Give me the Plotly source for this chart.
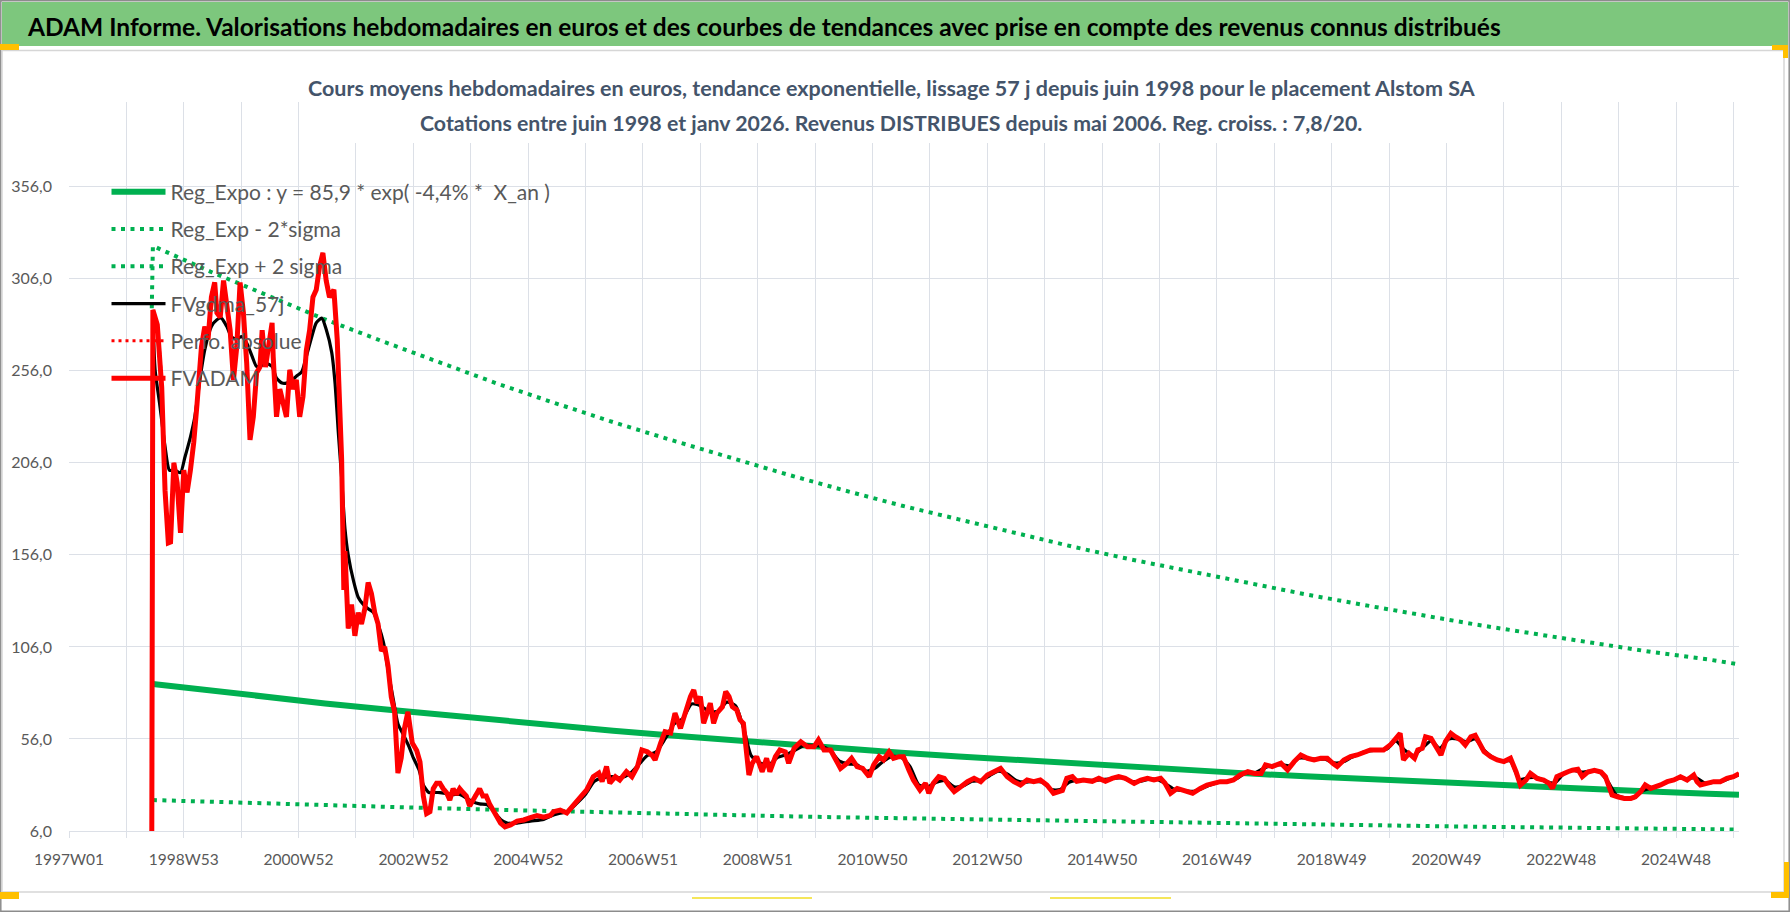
import plotly.graph_objects as go

# ---------------- DATA ----------------
# x = week index counted from 1997W01 (category position on the weekly axis)
label_week = [0, 104, 208, 312, 416, 520, 624, 728, 832, 936, 1040, 1144, 1248, 1352, 1456]
label_text = ["1997W01", "1998W53", "2000W52", "2002W52", "2004W52", "2006W51", "2008W51",
              "2010W50", "2012W50", "2014W50", "2016W49", "2018W49", "2020W49", "2022W48", "2024W48"]

trend_week = [76, 128, 180, 232, 285, 337, 389, 441, 493, 546, 598, 650, 702, 754, 806,
              859, 911, 963, 1015, 1067, 1120, 1172, 1224, 1276, 1328, 1380, 1433, 1485, 1513]
reg_expo = [85.9, 82.2, 78.7, 75.3, 72.1, 69.0, 66.0, 63.2, 60.5, 57.9, 55.4, 53.0, 50.7, 48.5, 46.5,
            44.5, 42.5, 40.7, 39.0, 37.3, 35.7, 34.2, 32.7, 31.3, 30.0, 28.7, 27.4, 26.3, 25.7]
reg_minus = [22.8, 21.8, 20.9, 20.0, 19.1, 18.3, 17.5, 16.7, 16.0, 15.3, 14.7, 14.0, 13.4, 12.9, 12.3,
             11.8, 11.3, 10.8, 10.3, 9.9, 9.5, 9.1, 8.7, 8.3, 8.0, 7.6, 7.3, 7.0, 6.8]
plus_week = [75] + trend_week
reg_plus = [290.0, 323.8, 309.9, 296.7, 283.9, 271.8, 260.1, 248.8, 238.3, 228.1, 218.3, 208.9, 199.8,
            191.1, 182.8, 175.3, 167.8, 160.2, 153.4, 147.0, 140.6, 134.6, 128.9, 123.3, 118.0, 113.1,
            108.2, 103.3, 99.2, 96.5]

adam_week = [75, 76, 80, 83, 84, 87, 90, 92, 95, 98, 101, 104, 107, 110, 113, 116, 117, 120, 123, 126,
             129, 132, 134, 137, 140, 143, 146, 149, 152, 155, 158, 161, 164, 167, 170, 173, 175, 178,
             181, 184, 185, 188, 191, 194, 197, 200, 203, 206, 209, 212, 215, 218, 221, 224, 227, 230,
             233, 236, 240, 243, 245, 247, 249, 250, 253, 256, 259, 262, 265, 268, 271, 274, 277, 280,
             283, 286, 289, 292, 295, 298, 301, 304, 307, 311, 315, 318, 321, 324, 327, 330, 333, 336,
             339, 342, 345, 348, 351, 354, 357, 360, 363, 366, 369, 372, 375, 378, 381, 385, 388, 391,
             395, 400, 406, 412, 418, 424, 430, 436, 439, 445, 451, 457, 463, 469, 475, 480, 483, 487,
             490, 495, 499, 505, 510, 515, 519, 524, 528, 531, 536, 540, 545, 549, 554, 558, 563, 566,
             569, 572, 575, 578, 581, 584, 587, 592, 595, 598, 601, 605, 608, 611, 613, 616, 619, 623,
             628, 632, 635, 640, 644, 649, 652, 657, 663, 669, 675, 679, 684, 690, 694, 699, 705, 709,
             714, 719, 725, 729, 734, 738, 743, 747, 752, 756, 761, 765, 771, 776, 779, 783, 788, 793,
             797, 802, 808, 814, 820, 826, 832, 838, 844, 850, 856, 862, 868, 874, 880, 886, 892, 900,
             904, 909, 913, 919, 927, 933, 939, 945, 951, 957, 965, 971, 977, 983, 989, 993, 998, 1004,
             1010, 1018, 1025, 1031, 1037, 1043, 1049, 1055, 1061, 1068, 1074, 1080, 1084, 1090, 1098,
             1104, 1110, 1116, 1122, 1128, 1134, 1140, 1145, 1149, 1155, 1161, 1167, 1173, 1179, 1185,
             1191, 1197, 1202, 1206, 1209, 1214, 1219, 1222, 1226, 1229, 1234, 1238, 1243, 1247, 1252,
             1256, 1261, 1265, 1270, 1274, 1279, 1282, 1288, 1294, 1300, 1306, 1311, 1315, 1320, 1324,
             1330, 1336, 1341, 1344, 1348, 1353, 1358, 1362, 1367, 1371, 1376, 1382, 1388, 1392, 1395,
             1398, 1403, 1409, 1415, 1419, 1424, 1428, 1433, 1438, 1442, 1448, 1454, 1460, 1466, 1472,
             1475, 1478, 1484, 1490, 1496, 1502, 1508, 1513]
adam_value = [0, 289, 281, 260, 247, 191, 162.5, 163, 206, 195, 168, 202, 190, 202, 217, 238, 246, 269, 280, 273,
              296, 304, 287.5, 285, 305, 289, 278, 251, 269, 304, 287.5, 260, 218.5, 231, 255, 258, 278, 258,
              269, 282, 263.6, 231, 246, 238.6, 231, 256.5, 246, 251, 231, 242, 267, 278, 296, 300, 312.5, 320,
              305, 296, 300, 273, 235, 208, 137, 158, 116, 129, 112, 124.6, 118.5, 126.7, 141, 135, 124.6, 118.5,
              103.8, 106, 95.7, 78.8, 70.7, 37.5, 45.7, 62, 70.7, 53.8, 49.7, 43.5, 25, 15.5, 16.5, 29, 32, 32,
              29, 26.9, 22.8, 29, 25.8, 29, 26.9, 25, 19.6, 22.8, 26.9, 29, 25, 25, 20.7, 16.5, 13.3, 10.3,
              8.2, 9.3, 11.4, 12, 13.3, 14.4, 13.5, 14.4, 16.5, 17.4, 15.8, 20, 24, 28.3, 35.5, 37.5, 32.8, 41,
              32, 35.5, 33.7, 38.2, 35.5, 41, 50, 49, 47.3, 44.6, 53.7, 60, 59.3, 70, 61.8, 70, 79, 82.6,
              75.4, 79, 64.5, 70, 75.4, 64.5, 70, 73.5, 81.7, 79, 73.5, 71.8, 66.3, 64.5, 51.8, 36.4, 42.8, 46.4,
              38.2, 45.5, 38.2, 46.4, 50, 49, 42.8, 51, 54.5, 51.8, 51.8, 55.5, 50, 50, 45.5, 40, 42.8, 45.5,
              41, 40, 35.5, 41.9, 46.4, 44.6, 49, 45.5, 46.4, 46.4, 39, 33.7, 28.3, 31.9, 26.5, 31.9, 35.5, 34.6,
              31, 27.4, 30, 32.8, 34.6, 32.8, 36.4, 38.2, 40, 35.5, 32.8, 31, 33.7, 32.8, 33.7, 31, 26.5, 28,
              34.6, 35.5, 33, 33.7, 33, 34.6, 33, 34.6, 35.5, 34.6, 31.9, 33.7, 34.6, 33.7, 34.6, 31.9, 26.5, 29.1,
              28.2, 26.5, 29.1, 31, 31.9, 32.8, 32.8, 33.7, 36.4, 38.2, 37.3, 37.3, 41.9, 41, 42.8,
              39.1, 43.7, 47.3, 45.5, 44.6, 45.5, 45.5, 42.8, 41, 44.6, 46.4, 47.3, 49, 50, 50,
              50, 52.7, 56.3, 59, 44.6, 48.2, 45.5, 50, 50.9, 57.2, 56.3, 52.7, 47.3, 54.5, 59,
              57.2, 55.4, 52.7, 57.2, 58, 51.8, 49.1, 46.4, 44.6, 43.7, 45.5, 38.2, 31, 33.7, 37.3,
              34.6, 33.7, 31.9, 29.1, 35.5, 37.2, 38.2, 39, 39.5, 35.5, 38, 39, 38, 35.5, 30.1,
              25.6, 24.6, 23.7, 23.7, 24.6, 27.4, 31, 29.1, 30, 31, 32.8, 33.7, 35.5, 33.7, 36.4,
              32.8, 31, 31.9, 32.8, 32.8, 34.6, 35.5, 37.2]

gdma_week = [76, 78, 82, 87, 91, 96, 101, 105, 110, 114, 119, 123, 129, 134, 138, 143, 147, 152, 156, 161,
             166, 170, 175, 179, 184, 188, 193, 197, 202, 206, 211, 215, 220, 224, 229, 233, 238, 241, 244,
             247, 250, 253, 258, 262, 267, 271, 276, 280, 285, 289, 294, 298, 303, 308, 312, 317, 321, 326,
             330, 336, 342, 348, 354, 360, 366, 372, 379, 385, 391, 397, 406, 418, 430, 436, 444, 452, 460,
             468, 476, 484, 492, 500, 508, 516, 524, 532, 540, 548, 556, 564, 572, 580, 588, 596, 604, 612,
             618, 626, 634, 642, 650, 658, 666, 674, 682, 690, 698, 706, 714, 722, 730, 738, 746, 754, 762,
             770, 778, 786, 794, 802, 810, 818, 826, 834, 842, 850, 858, 866, 874, 882, 890, 898, 906, 914,
             922, 930, 938, 946, 954, 962, 970, 978, 986, 994, 1002, 1010, 1018, 1026, 1034, 1042, 1050,
             1058, 1066, 1074, 1082, 1090, 1098, 1106, 1114, 1122, 1130, 1138, 1146, 1154, 1162, 1170,
             1178, 1186, 1194, 1202, 1210, 1218, 1226, 1234, 1242, 1250, 1258, 1266, 1274, 1282, 1290,
             1298, 1306, 1314, 1322, 1330, 1338, 1346, 1354, 1362, 1370, 1378, 1386, 1394, 1402, 1410,
             1418, 1426, 1434, 1442, 1450, 1458, 1466, 1474, 1482, 1490, 1498, 1506, 1513]
gdma_value = [285, 256.5, 238.6, 214.9, 202, 202, 200.6, 209, 220, 231, 253, 267.4, 280, 283.7, 284.6, 280,
              274.6, 273, 274.6, 271, 263.7, 258.3, 259, 260, 258.3, 252, 249.3, 249.3, 251, 253, 255.6,
              263.7, 274.6, 282, 284.6, 278.5, 266, 249.5, 222.4, 198, 170.4, 155.8, 141.3, 133, 128.8,
              126.7, 124.6, 118.5, 108.2, 93.5, 76.8, 64.3, 58.2, 51.9, 45.7, 39.4, 31, 26.9, 26.9, 26.9,
              26.4, 25.8, 25.8, 23.9, 21.8, 20.7, 20.2, 16.5, 12.3, 10.3, 10.3, 11.4, 12.3, 14, 15.5, 16.5,
              21, 26, 33, 35, 35.5, 35, 37, 42, 47, 49, 56, 64, 67, 75, 74, 71, 71, 76, 74, 60, 47, 43, 42,
              46, 47.5, 50, 52.5, 52.5, 52, 49.5, 44, 42.5, 42, 38.5, 40, 44, 46.5, 46, 41, 31, 30, 32.5,
              33.5, 30, 30.5, 33, 33.5, 36, 38.5, 37, 33.5, 32.5, 33, 32.5, 28.5, 28.5, 32.5, 33.5, 33.5,
              33.5, 34, 34.5, 35, 33, 33, 34, 34, 31.5, 28.5, 28, 27.5, 29, 31, 32.5, 33, 34.5, 37.5, 37.5,
              40, 41.5, 42, 41.5, 45.5, 45.5, 45, 45, 43, 43.5, 46, 48, 49.5, 50, 50.5, 55, 50, 47, 51, 55,
              51, 56, 56, 54.5, 56, 50, 46, 44, 44, 34, 35, 35, 33, 32, 37, 39, 38, 38.5, 38.5, 33, 25.5,
              24, 24, 28, 29.5, 31, 33, 34.5, 34.5, 35, 32, 32.5, 33, 35, 36.5]

series_names = ["Reg_Expo : y = 85,9 * exp( -4,4% *\u00a0 X_an )", "Reg_Exp - 2*sigma",
                "Reg_Exp + 2 sigma", "FVgdma_57j", "Perfo. absolue", "FVADAM"]

header_text = ("ADAM Informe. Valorisations hebdomadaires en euros et des courbes de tendances "
               "avec prise en compte des revenus connus distribués")
subtitle_1 = ("Cours moyens hebdomadaires en euros, tendance exponentielle, lissage 57 j depuis "
              "juin 1998 pour le placement Alstom SA")
subtitle_2 = ("Cotations entre juin 1998 et janv 2026. Revenus DISTRIBUES depuis mai 2006. "
              "Reg. croiss. : 7,8/20.")

# ---------------- STYLE / LAYOUT ----------------
W, H = 1790, 912
L, R, T, B = 69, 1739, 102, 831
GREEN, RED = "#00B050", "#FF0000"
GRID = "#DCE0E7"
TXT = "#595959"
FONT = "Lato"


def pxx(x):
    return (x - L) / (R - L)


def pxy(y):
    return (B - y) / (B - T)


fig = go.Figure()
fig.add_trace(go.Scatter(x=trend_week, y=reg_expo, mode="lines", name=series_names[0],
                         legendgroup="a", line=dict(color=GREEN, width=6)))
fig.add_trace(go.Scatter(x=trend_week, y=reg_minus, mode="lines", name=series_names[1],
                         legendgroup="b", line=dict(color=GREEN, width=4, dash="4px,5.5px")))
fig.add_trace(go.Scatter(x=plus_week, y=reg_plus, mode="lines", name=series_names[2],
                         legendgroup="c", line=dict(color=GREEN, width=4, dash="4px,5.5px")))
fig.add_trace(go.Scatter(x=gdma_week, y=gdma_value, mode="lines", name=series_names[3],
                         legendgroup="d", line=dict(color="#000000", width=3.2, shape="spline",
                                                    smoothing=0.6)))
fig.add_trace(go.Scatter(x=adam_week, y=adam_value, mode="lines", name=series_names[4],
                         legendgroup="e", line=dict(color=RED, width=3, dash="3px,4px")))
fig.add_trace(go.Scatter(x=adam_week, y=adam_value, mode="lines", name=series_names[5],
                         legendgroup="f", line=dict(color=RED, width=5)))

shapes = [
    # outer frame
    dict(type="rect", xref="paper", yref="paper", x0=pxx(0.8), x1=pxx(1789.2), y0=pxy(911.2), y1=pxy(0.8),
         line=dict(color="#8C8C8C", width=1.5), fillcolor="rgba(0,0,0,0)", layer="below"),
    # chart area frame
    dict(type="rect", xref="paper", yref="paper", x0=pxx(2), x1=pxx(1784), y0=pxy(892), y1=pxy(50.5),
         line=dict(color="#D6D6D6", width=1.5), fillcolor="rgba(0,0,0,0)", layer="below"),
    # green header band
    dict(type="rect", xref="paper", yref="paper", x0=pxx(2), x1=pxx(1788), y0=pxy(46), y1=pxy(2),
         line=dict(width=0), fillcolor="#7DC77D", layer="below"),
    # white title box
    dict(type="rect", xref="paper", yref="paper", x0=pxx(302), x1=pxx(1482), y0=pxy(143), y1=pxy(62),
         line=dict(width=0), fillcolor="white", layer="above"),
    # selection handles
    dict(type="rect", xref="paper", yref="paper", x0=pxx(0), x1=pxx(19), y0=pxy(50), y1=pxy(44),
         line=dict(width=0), fillcolor="#FFC000", layer="above"),
    dict(type="rect", xref="paper", yref="paper", x0=pxx(1772), x1=pxx(1788), y0=pxy(50), y1=pxy(45),
         line=dict(width=0), fillcolor="#FFC000", layer="above"),
    dict(type="rect", xref="paper", yref="paper", x0=pxx(1783), x1=pxx(1788), y0=pxy(58), y1=pxy(45),
         line=dict(width=0), fillcolor="#FFC000", layer="above"),
    dict(type="rect", xref="paper", yref="paper", x0=pxx(0), x1=pxx(19), y0=pxy(899), y1=pxy(892),
         line=dict(width=0), fillcolor="#FFC000", layer="above"),
    dict(type="rect", xref="paper", yref="paper", x0=pxx(1771), x1=pxx(1789), y0=pxy(898), y1=pxy(892),
         line=dict(width=0), fillcolor="#FFC000", layer="above"),
    dict(type="rect", xref="paper", yref="paper", x0=pxx(1784), x1=pxx(1789), y0=pxy(898), y1=pxy(862),
         line=dict(width=0), fillcolor="#FFC000", layer="above"),
    dict(type="line", xref="paper", yref="paper", x0=pxx(692), x1=pxx(812), y0=pxy(898), y1=pxy(898),
         line=dict(color="#F5E65A", width=2), layer="above"),
    dict(type="line", xref="paper", yref="paper", x0=pxx(1050), x1=pxx(1171), y0=pxy(898), y1=pxy(898),
         line=dict(color="#F5E65A", width=2), layer="above"),
]

annotations = [
    dict(xref="paper", yref="paper", x=pxx(25), y=pxy(27), xanchor="left", yanchor="middle",
         text="<b>" + header_text + "</b>", showarrow=False,
         font=dict(family=FONT, size=24.5, color="#000000")),
    dict(xref="paper", yref="paper", x=pxx(892), y=pxy(88), xanchor="center", yanchor="middle",
         text="<b>" + subtitle_1 + "</b>", showarrow=False,
         font=dict(family=FONT, size=21.5, color="#44546A")),
    dict(xref="paper", yref="paper", x=pxx(891), y=pxy(123), xanchor="center", yanchor="middle",
         text="<b>" + subtitle_2 + "</b>", showarrow=False,
         font=dict(family=FONT, size=21.3, color="#44546A")),
]

fig.update_layout(
    width=W, height=H, autosize=False,
    margin=dict(l=L, r=W - R, t=T, b=H - B, pad=0),
    paper_bgcolor="white", plot_bgcolor="white",
    separators=", ",
    showlegend=True,
    legend=dict(x=pxx(106.5), y=pxy(171.5), xanchor="left", yanchor="top",
                bgcolor="rgba(0,0,0,0)", borderwidth=0,
                font=dict(family=FONT, size=21, color=TXT),
                itemwidth=54, tracegroupgap=7, traceorder="grouped"),
    xaxis=dict(range=[0, 1513], tickmode="array", tickvals=label_week, ticktext=label_text,
               showgrid=True, gridcolor=GRID, gridwidth=1.3,
               ticks="outside", ticklen=6, tickcolor=GRID, tickwidth=1.3,
               minor=dict(tick0=0, dtick=52, showgrid=True, gridcolor=GRID, gridwidth=1.3,
                          ticks="outside", ticklen=6, tickcolor=GRID, tickwidth=1.3),
               showline=True, linecolor=GRID, linewidth=1.3, zeroline=False,
               tickfont=dict(family=FONT, size=15.5, color=TXT), ticklabelstandoff=8),
    yaxis=dict(range=[6, 402], tick0=6, dtick=50, tickformat=".1f",
               showgrid=True, gridcolor=GRID, gridwidth=1.3, zeroline=False,
               ticks="", showline=False,
               tickfont=dict(family=FONT, size=16, color=TXT), ticklabelstandoff=16),
    shapes=shapes,
    annotations=annotations,
)

fig.write_html("out.html",
               config={"displayModeBar": False},
               post_script="document.documentElement.style.margin='0';"
                           "document.body.style.margin='0';"
                           "document.body.style.overflow='hidden';")
